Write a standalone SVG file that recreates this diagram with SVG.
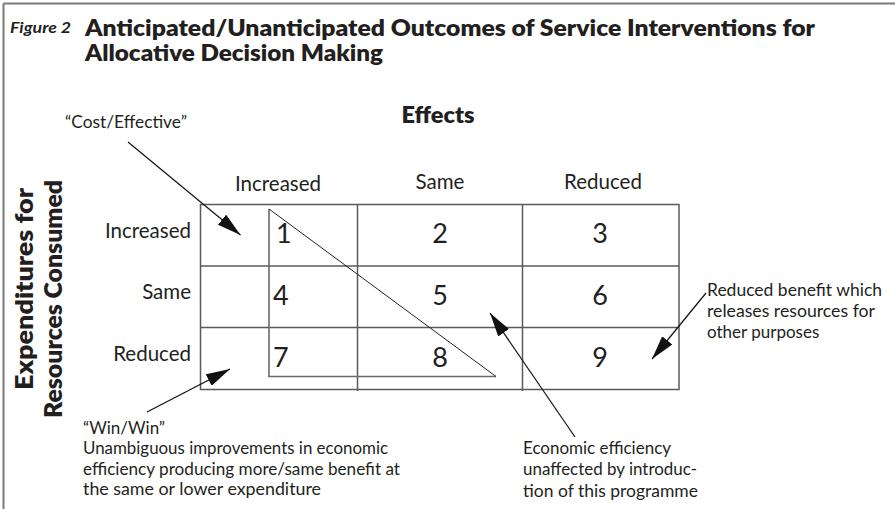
<svg xmlns="http://www.w3.org/2000/svg" width="895" height="509" viewBox="0 0 895 509">
  <style>
    text { font-family: Lato, "Liberation Sans", sans-serif; fill: #231f20; }
    .title { font-size: 22px; font-weight: 800; }
    .fig { font-size: 16px; font-weight: bold; font-style: italic; }
    .axis { font-size: 24px; font-weight: 800; }
    .head { font-size: 23px; font-weight: 800; }
    .lab { font-size: 20.5px; }
    .num { font-size: 27px; text-anchor: middle; }
    .numl { font-size: 27px; }
    .note { font-size: 17px; }
    .frame { stroke: #7a7a7a; stroke-width: 2; fill: none; }
    .grid { stroke: #5a5a5a; stroke-width: 1.5; fill: none; }
    .tri { stroke: #6a6a6a; stroke-width: 1.6; fill: none; }
    .hyp { stroke: #222; stroke-width: 1; fill: none; }
    .conn { stroke: #111; stroke-width: 1.2; fill: none; marker-end: url(#head); }
  </style>
  <defs>
    <marker id="head" viewBox="0 0 24 13" refX="24" refY="6.5" markerWidth="24" markerHeight="13" markerUnits="userSpaceOnUse" orient="auto">
      <path d="M0,0 L24,6.5 L0,13 z" fill="#111"/>
    </marker>
  </defs>

  <rect width="895" height="509" fill="#fff"/>

  <!-- page frame: top and left rules -->
  <g id="frame">
    <line class="frame" x1="3.5" y1="3.5" x2="895" y2="3.5"/>
    <line class="frame" x1="3.5" y1="3.5" x2="3.5" y2="509"/>
  </g>

  <!-- heading -->
  <g id="heading">
    <text class="fig" x="10" y="33" textLength="61" lengthAdjust="spacingAndGlyphs">Figure 2</text>
    <text class="title" x="85" y="36" textLength="730" lengthAdjust="spacingAndGlyphs">Anticipated/Unanticipated Outcomes of Service Interventions for</text>
    <text class="title" x="85" y="61" textLength="298" lengthAdjust="spacingAndGlyphs">Allocative Decision Making</text>
  </g>

  <!-- axis titles -->
  <g id="axis-effects">
    <text class="head" x="401.5" y="123" textLength="73" lengthAdjust="spacingAndGlyphs">Effects</text>
    <text class="lab" x="278" y="191" text-anchor="middle">Increased</text>
    <text class="lab" x="440" y="189" text-anchor="middle">Same</text>
    <text class="lab" x="603" y="189" text-anchor="middle">Reduced</text>
  </g>
  <g id="axis-expenditures">
    <text class="axis" transform="translate(33,289) rotate(-90)" text-anchor="middle" textLength="202" lengthAdjust="spacingAndGlyphs">Expenditures for</text>
    <text class="axis" transform="translate(62,299) rotate(-90)" text-anchor="middle" textLength="238" lengthAdjust="spacingAndGlyphs">Resources Consumed</text>
    <text class="lab" x="191" y="238" text-anchor="end">Increased</text>
    <text class="lab" x="191" y="299" text-anchor="end">Same</text>
    <text class="lab" x="191" y="361" text-anchor="end">Reduced</text>
  </g>

  <!-- 3 x 3 outcome matrix -->
  <g id="matrix">
    <rect class="grid" x="200.5" y="204.5" width="478.5" height="185"/>
    <line class="grid" x1="357.5" y1="204.5" x2="357.5" y2="391"/>
    <line class="grid" x1="522.5" y1="204.5" x2="522.5" y2="391"/>
    <line class="grid" x1="200.5" y1="266" x2="679" y2="266"/>
    <line class="grid" x1="200.5" y1="327.5" x2="679" y2="327.5"/>
  </g>

  <!-- cost-effective region -->
  <g id="triangle">
    <polyline class="tri" points="269,209 269,376.5 496,376.5"/>
    <line class="hyp" x1="269" y1="209" x2="496" y2="376.5"/>
  </g>

  <g id="cell-1"><text class="numl" x="276" y="243">1</text></g>
  <g id="cell-2"><text class="num" x="440" y="243">2</text></g>
  <g id="cell-3"><text class="num" x="600" y="243">3</text></g>
  <g id="cell-4"><text class="numl" x="273" y="305">4</text></g>
  <g id="cell-5"><text class="num" x="440" y="305">5</text></g>
  <g id="cell-6"><text class="num" x="600" y="305">6</text></g>
  <g id="cell-7"><text class="numl" x="273" y="367">7</text></g>
  <g id="cell-8"><text class="num" x="440" y="367">8</text></g>
  <g id="cell-9"><text class="num" x="600" y="367">9</text></g>

  <!-- callout texts -->
  <g id="note-cost-effective">
    <text class="note" x="65" y="128" textLength="122" lengthAdjust="spacingAndGlyphs">“Cost/Effective”</text>
  </g>
  <g id="note-win-win">
    <text class="note" x="83" y="434">“Win/Win”</text>
    <text class="note" x="83" y="454" textLength="305" lengthAdjust="spacingAndGlyphs">Unambiguous improvements in economic</text>
    <text class="note" x="83" y="474.5" textLength="317" lengthAdjust="spacingAndGlyphs">efficiency producing more/same benefit at</text>
    <text class="note" x="83" y="495" textLength="238" lengthAdjust="spacingAndGlyphs">the same or lower expenditure</text>
  </g>
  <g id="note-efficiency">
    <text class="note" x="523" y="454" textLength="148" lengthAdjust="spacingAndGlyphs">Economic efficiency</text>
    <text class="note" x="523" y="475" textLength="174" lengthAdjust="spacingAndGlyphs">unaffected by introduc-</text>
    <text class="note" x="523" y="496.5" textLength="175" lengthAdjust="spacingAndGlyphs">tion of this programme</text>
  </g>
  <g id="note-reduced">
    <text class="note" x="707" y="296" textLength="175" lengthAdjust="spacingAndGlyphs">Reduced benefit which</text>
    <text class="note" x="707" y="317" textLength="168" lengthAdjust="spacingAndGlyphs">releases resources for</text>
    <text class="note" x="707" y="338">other purposes</text>
  </g>

  <!-- pointer arrows -->
  <g id="connectors">
    <line class="conn" x1="128" y1="142" x2="240.5" y2="235"/>
    <line class="conn" x1="147" y1="412" x2="230" y2="369"/>
    <line class="conn" x1="575" y1="437" x2="490" y2="313"/>
    <line class="conn" x1="706" y1="293" x2="652" y2="359"/>
  </g>
</svg>
